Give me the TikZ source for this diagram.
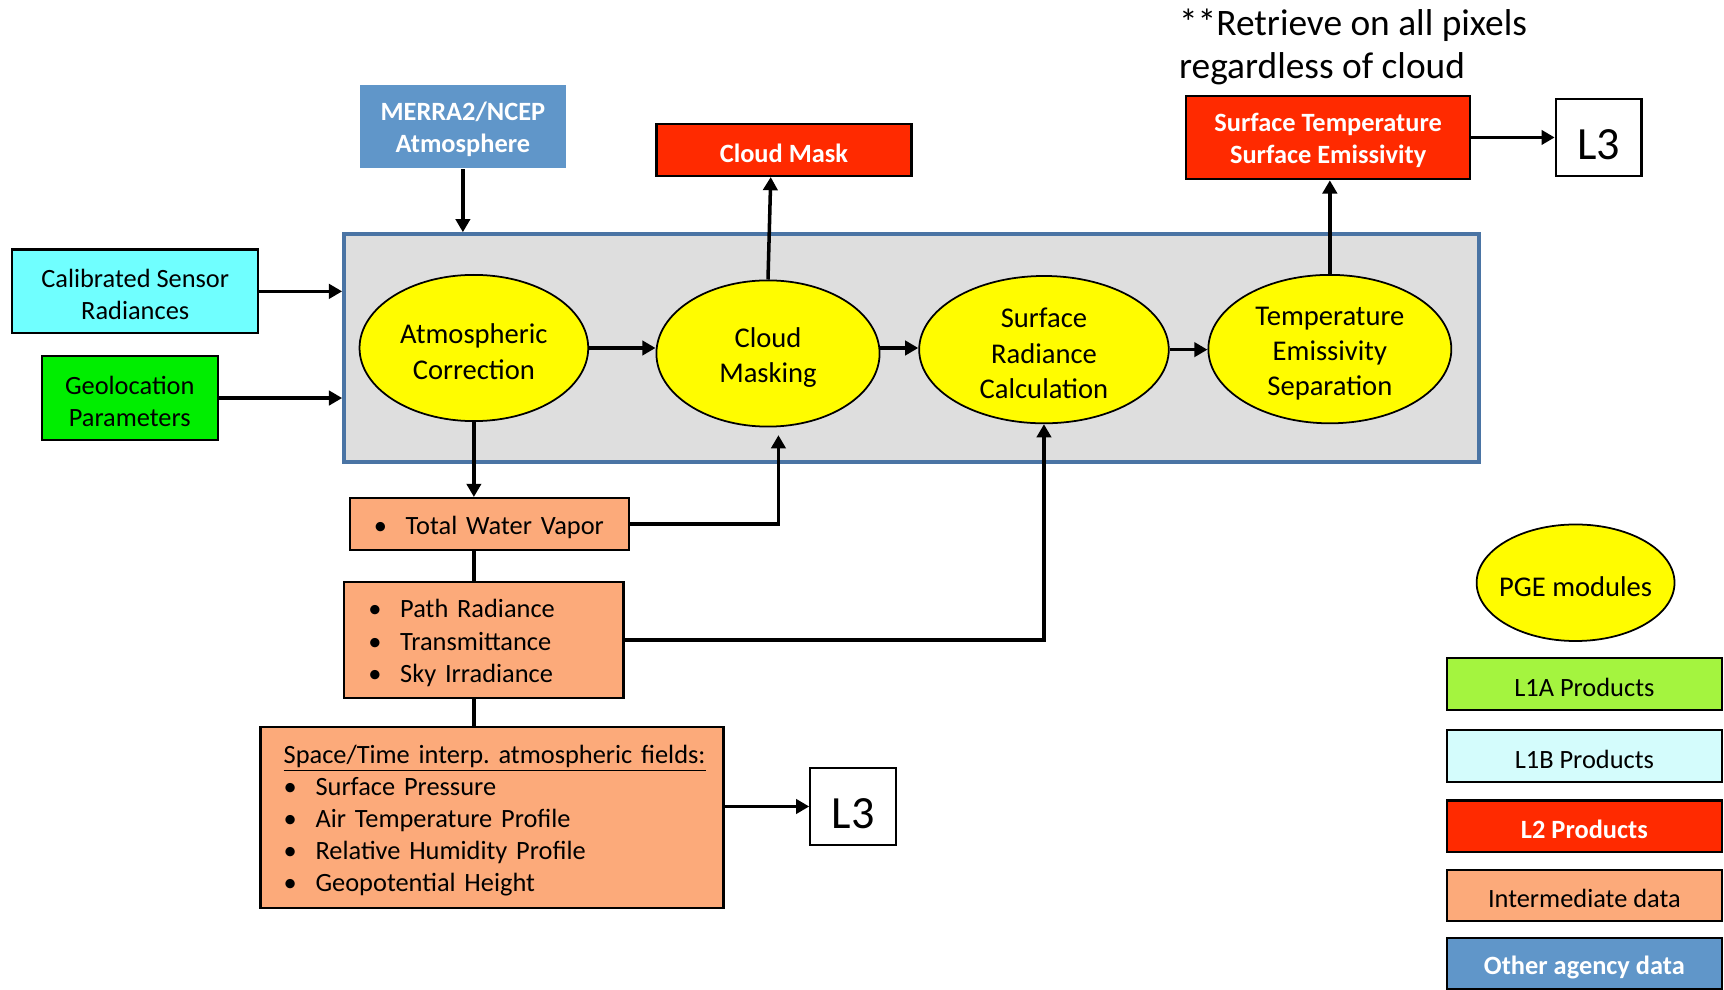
\documentclass[tikz,border=0pt]{standalone}
\usepackage{fontspec}
\setmainfont{Carlito}
\usetikzlibrary{shapes.geometric,arrows.meta}
\definecolor{redp}{HTML}{FF2A00}
\definecolor{salmon}{HTML}{FCAA7A}
\definecolor{agency}{HTML}{6096C9}
\definecolor{outerblue}{HTML}{4A74A4}
\definecolor{grayfill}{HTML}{DEDEDE}
\definecolor{cyanp}{HTML}{70FFFF}
\definecolor{greenp}{HTML}{00EE00}
\definecolor{yel}{HTML}{FFFC00}
\definecolor{lonea}{HTML}{A4F43F}
\definecolor{loneb}{HTML}{D4FCFC}
\newcommand\mybul{\makebox[14.5pt][l]{\textbullet}}
\newcommand\mystrut{\rule{0pt}{0.95em}}
\frenchspacing
\begin{document}
\begin{tikzpicture}[x=0.5pt,y=-0.5pt,
  box/.style={draw=black, line width=1pt, inner sep=0pt, align=center, font=\fontsize{12}{14.5}\selectfont},
  wb/.style={text=white, font=\fontsize{12}{14.5}\selectfont\bfseries},
  pge/.style={ellipse, draw=black, fill=yel, line width=0.8pt, inner sep=0pt, align=center, font=\fontsize{13}{16}\selectfont},
  arr/.style={line width=1.6pt, -{Triangle[length=6pt,width=6.5pt]}},
  ln/.style={line width=1.6pt},
  lthree/.style={draw=black, line width=1pt, fill=white, inner sep=0pt, font=\fontsize{21}{25}\selectfont, minimum width=39pt, minimum height=35pt},
  leg/.style={box, minimum width=125pt, minimum height=23.5pt}
]
\useasboundingbox (0,0) rectangle (1568,900);

% main frame
\node[draw=outerblue, line width=1.8pt, fill=grayfill, minimum width=516pt, minimum height=103.5pt, inner sep=0pt] (outer) at (829,316.5) {};

% inputs / outputs
\node[box, draw=none, fill=agency, wb, minimum width=94pt, minimum height=38pt] (merra) at (421,115) {\mystrut MERRA2/NCEP\\Atmosphere};
\node[box, fill=redp, wb, minimum width=116pt, minimum height=23.5pt] (cmask) at (713,136.5) {\mystrut Cloud Mask};
\node[box, fill=redp, wb, minimum width=129pt, minimum height=38pt] (ste) at (1208,125) {\mystrut Surface Temperature\\Surface Emissivity};
\node[lthree] (l3a) at (1454,125) {\mystrut L3};
\node[anchor=west, align=left, inner sep=0pt, font=\fontsize{17}{19.5}\selectfont] (note) at (1072,39) {\mystrut **Retrieve on all pixels\\regardless of cloud};

\node[box, fill=cyanp, minimum width=112pt, minimum height=38pt] (csr) at (123,265) {\mystrut Calibrated Sensor\\Radiances};
\node[box, fill=greenp, minimum width=80pt, minimum height=38pt] (geo) at (118,362) {\mystrut Geolocation\\Parameters};

% PGE modules
\node[pge, minimum width=104pt, minimum height=66.5pt] (ac) at (431,316.5) {\mystrut Atmospheric\\Correction};
\node[pge, minimum width=101.5pt, minimum height=66.5pt] (cm) at (698.5,321.5) {\mystrut Cloud\\Masking};
\node[pge, minimum width=113.5pt, minimum height=67pt] (src) at (949.5,318) {\mystrut Surface\\Radiance\\Calculation};
\node[pge, minimum width=110.5pt, minimum height=67.5pt] (tes) at (1209.5,317.5) {\mystrut Temperature\\Emissivity\\Separation};

% intermediate data
\node[box, fill=salmon, minimum width=127pt, minimum height=23.5pt, text width=105pt, align=left, inner xsep=11pt] (twv) at (445,476.5) {\mystrut\mybul Total Water Vapor};
\node[box, fill=salmon, minimum width=127pt, minimum height=53pt, text width=105pt, align=left, inner xsep=11pt, font=\fontsize{12}{14.7}\selectfont] (path) at (440,582) {\mystrut\mybul Path Radiance\\\mybul Transmittance\\\mybul Sky Irradiance};
\node[box, fill=salmon, minimum width=210.5pt, minimum height=82.5pt, text width=189.5pt, align=left, inner xsep=10.5pt, font=\fontsize{12}{14.6}\selectfont] (st) at (447.5,743.5) {\mystrut\underline{Space/Time interp. atmospheric fields:}\\\mybul Surface Pressure\\\mybul Air Temperature Profile\\\mybul Relative Humidity Profile\\\mybul Geopotential Height};
\node[lthree] (l3b) at (776,733.5) {\mystrut L3};

% legend
\node[pge, inner sep=-4pt, minimum width=90pt, minimum height=53pt] (pgeleg) at (1433,530) {\mystrut PGE modules};
\node[leg, fill=lonea] (lega) at (1441,622) {\mystrut L1A Products};
\node[leg, fill=loneb] (legb) at (1441,687.5) {\mystrut L1B Products};
\node[leg, fill=redp, wb] (legc) at (1441,751.5) {\mystrut L2 Products};
\node[leg, fill=salmon] (legd) at (1441,814.5) {\mystrut Intermediate data};
\node[leg, fill=agency, wb] (lege) at (1441,876.5) {\mystrut Other agency data};

% connectors
\draw[arr] (merra.south) -- (merra.south |- outer.north);
\draw[arr] (csr.east) -- (outer.west |- csr.east);
\draw[arr] (geo.east) -- (outer.west |- geo.east);
\draw[arr] (ac.east) -- (ac.east -| cm.west);
\draw[arr] (cm.east |- ac.east) -- (src.west |- ac.east);
\draw[arr] (src.east) -- (src.east -| tes.west);
\draw[arr] (cm.north) -- ([xshift=-6pt]cmask.south);
\draw[arr] (tes.north) -- (tes.north |- ste.south);
\draw[arr] (ste.east) -- (l3a.west);
\draw[arr] (ac.south) -- (ac.south |- twv.north);
\coordinate (cmin) at ([shift={(9.5,7)}]cm.south);
\draw[arr] (twv.east) -| (cmin);
\draw[arr] (path.east) -| (src.south);
\draw[ln] (ac.south |- twv.south) -- (ac.south |- path.north);
\draw[ln] (ac.south |- path.south) -- (ac.south |- st.north);
\draw[arr] (st.east |- l3b.west) -- (l3b.west);
\end{tikzpicture}
\end{document}
